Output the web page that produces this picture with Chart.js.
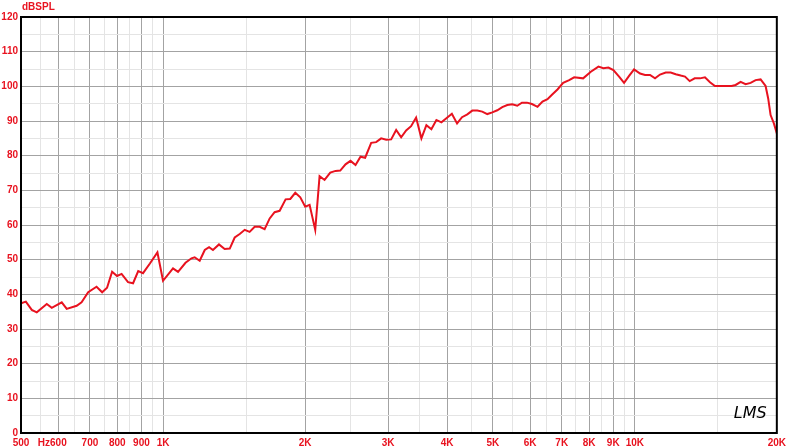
<!DOCTYPE html>
<html>
<head>
<meta charset="utf-8">
<script src="https://cdn.jsdelivr.net/npm/chart.js@4/dist/chart.umd.min.js"></script>
<style>
  body { margin: 0; background: #fff; }
  canvas { display: block; }
</style>
</head>
<body>
<canvas id="splChart" width="790" height="448"></canvas>
<script>
// frequency response
const freqs = [
    500, 512, 527, 540, 567, 581, 610, 625, 656, 672, 694, 723, 743, 761, 780, 799, 817, 843, 864, 886,
    907, 938, 973, 1000, 1050, 1076, 1116, 1149, 1167, 1196, 1226, 1252, 1276, 1314, 1351, 1385, 1419, 1454, 1490, 1526,
    1564, 1603, 1642, 1683, 1724, 1767, 1819, 1861, 1907, 1954, 2002, 2045, 2102, 2147, 2200, 2262, 2321, 2375, 2437, 2497,
    2559, 2622, 2682, 2762, 2830, 2900, 2972, 3045, 3120, 3197, 3276, 3356, 3439, 3529, 3616, 3705, 3797, 3891, 3987, 4095,
    4200, 4303, 4416, 4524, 4636, 4750, 4868, 4988, 5111, 5237, 5366, 5498, 5634, 5764, 5906, 6052, 6220, 6373, 6530, 6691,
    6856, 7049, 7259, 7438, 7771, 8068, 8373, 8579, 8791, 9008, 9261, 9490, 9724, 9964, 10260, 10513, 10772, 11038, 11310, 11628,
    11916, 12210, 12511, 12776, 13073, 13395, 13745, 14084, 14432, 14787, 15204, 16041, 16357, 16760, 17174, 17598, 18032, 18477, 18933, 19174,
    19400, 19714, 20000
];
const spl = [
    37.4, 37.9, 35.5, 34.8, 37.2, 36.1, 37.7, 35.8, 36.7, 37.7, 40.6, 42.2, 40.6, 41.9, 46.5, 45.3, 45.9, 43.5, 43.2, 46.7,
    46.1, 48.9, 52.1, 43.9, 47.5, 46.5, 49.1, 50.4, 50.7, 49.7, 52.8, 53.6, 52.8, 54.4, 53.1, 53.2, 56.4, 57.4, 58.6, 58.0,
    59.5, 59.5, 58.8, 61.9, 63.7, 64.1, 67.4, 67.5, 69.3, 68.0, 65.3, 65.8, 58.6, 74.1, 73.0, 75.1, 75.6, 75.7, 77.5, 78.5,
    77.3, 79.7, 79.4, 83.7, 83.9, 85.0, 84.6, 84.7, 87.4, 85.3, 87.3, 88.5, 91.0, 85.0, 88.8, 87.6, 90.3, 89.6, 90.8, 92.1,
    89.3, 91.1, 91.9, 93.0, 93.0, 92.7, 92.0, 92.5, 93.1, 94.0, 94.6, 94.8, 94.4, 95.3, 95.3, 94.9, 94.1, 95.6, 96.3, 97.7,
    99.1, 101.0, 101.8, 102.6, 102.3, 104.2, 105.7, 105.2, 105.4, 104.7, 102.8, 101.0, 103.0, 104.9, 103.7, 103.3, 103.3, 102.3, 103.4, 104.0,
    104.0, 103.5, 103.1, 102.8, 101.5, 102.3, 102.3, 102.6, 101.2, 100.1, 100.1, 100.1, 100.4, 101.3, 100.6, 101.0, 101.8, 102.0, 100.1, 96.5,
    91.7, 89.3, 86.4
];

// x grid: dark lines and light lines
const gridMajor = [600, 700, 800, 900, 1000, 2000, 3000, 4000, 5000, 6000, 7000, 8000, 9000, 10000, 20000];
const gridMinor = [550, 650, 750, 850, 950, 1500, 2500, 3500, 4500, 5500, 6500, 7500, 8500, 9500, 15000];
const xLabels = {
    500: '500', 559: 'Hz', 600: '600', 700: '700', 800: '800', 900: '900', 1000: '1K',
    2000: '2K', 3000: '3K', 4000: '4K', 5000: '5K', 6000: '6K', 7000: '7K', 8000: '8K',
    9000: '9K', 10000: '10K', 20000: '20K'
};

const RED = '#e8121f';
const DARK_GRID = '#a3a3a3';
const LIGHT_GRID = '#e4e4e4';
const labelFont = { family: 'Liberation Sans, Arial, sans-serif', size: 10, weight: 'bold' };

const points = freqs.map((f, i) => ({ x: f, y: spl[i] }));

// border box + axis caption + watermark
const decorations = {
    id: 'decorations',
    afterDraw(chart) {
        const { ctx, chartArea } = chart;
        ctx.save();
        ctx.strokeStyle = '#000';
        ctx.lineWidth = 2;
        ctx.strokeRect(chartArea.left, chartArea.top, chartArea.right - chartArea.left, chartArea.bottom - chartArea.top);

        ctx.fillStyle = RED;
        ctx.font = 'bold 10px Liberation Sans, Arial, sans-serif';
        ctx.textBaseline = 'middle';
        ctx.textAlign = 'left';
        ctx.fillText('dBSPL', chartArea.left + 1, 7);

        ctx.fillStyle = '#000';
        ctx.font = 'italic 16px DejaVu Sans, sans-serif';
        ctx.fillText('LMS', chartArea.right - 43, chartArea.bottom - 19);
        ctx.restore();
    }
};

new Chart(document.getElementById('splChart').getContext('2d'), {
    type: 'line',
    data: {
        datasets: [{
            data: points,
            borderColor: RED,
            borderWidth: 2,
            pointRadius: 0,
            tension: 0,
            fill: false
        }]
    },
    options: {
        responsive: false,
        animation: false,
        layout: { padding: { top: 17, right: 12, left: 0, bottom: 0 } },
        plugins: {
            legend: { display: false },
            tooltip: { enabled: false }
        },
        scales: {
            x: {
                type: 'logarithmic',
                min: 500,
                max: 20000,
                afterBuildTicks: (scale) => {
                    const vals = [500, 559].concat(gridMajor, gridMinor).sort((a, b) => a - b);
                    scale.ticks = vals.map(v => ({ value: v }));
                },
                afterFit: (scale) => { scale.height = 15; },
                grid: {
                    drawTicks: false,
                    color: (c) => {
                        const v = c.tick && c.tick.value;
                        if (gridMajor.includes(v)) return DARK_GRID;
                        if (gridMinor.includes(v)) return LIGHT_GRID;
                        return 'rgba(0,0,0,0)';
                    }
                },
                border: { display: false },
                ticks: {
                    autoSkip: false,
                    maxRotation: 0,
                    padding: 4,
                    color: RED,
                    font: labelFont,
                    callback: (value) => xLabels[value] || ''
                }
            },
            y: {
                min: 0,
                max: 120,
                afterFit: (scale) => { scale.width = 21; },
                grid: {
                    drawTicks: false,
                    color: (c) => (c.tick.value % 10 === 0 ? DARK_GRID : LIGHT_GRID)
                },
                border: { display: false },
                ticks: {
                    stepSize: 5,
                    padding: 3,
                    color: RED,
                    font: labelFont,
                    callback: (value) => (value % 10 === 0 ? value : '')
                }
            }
        }
    },
    plugins: [decorations]
});
</script>
</body>
</html>
